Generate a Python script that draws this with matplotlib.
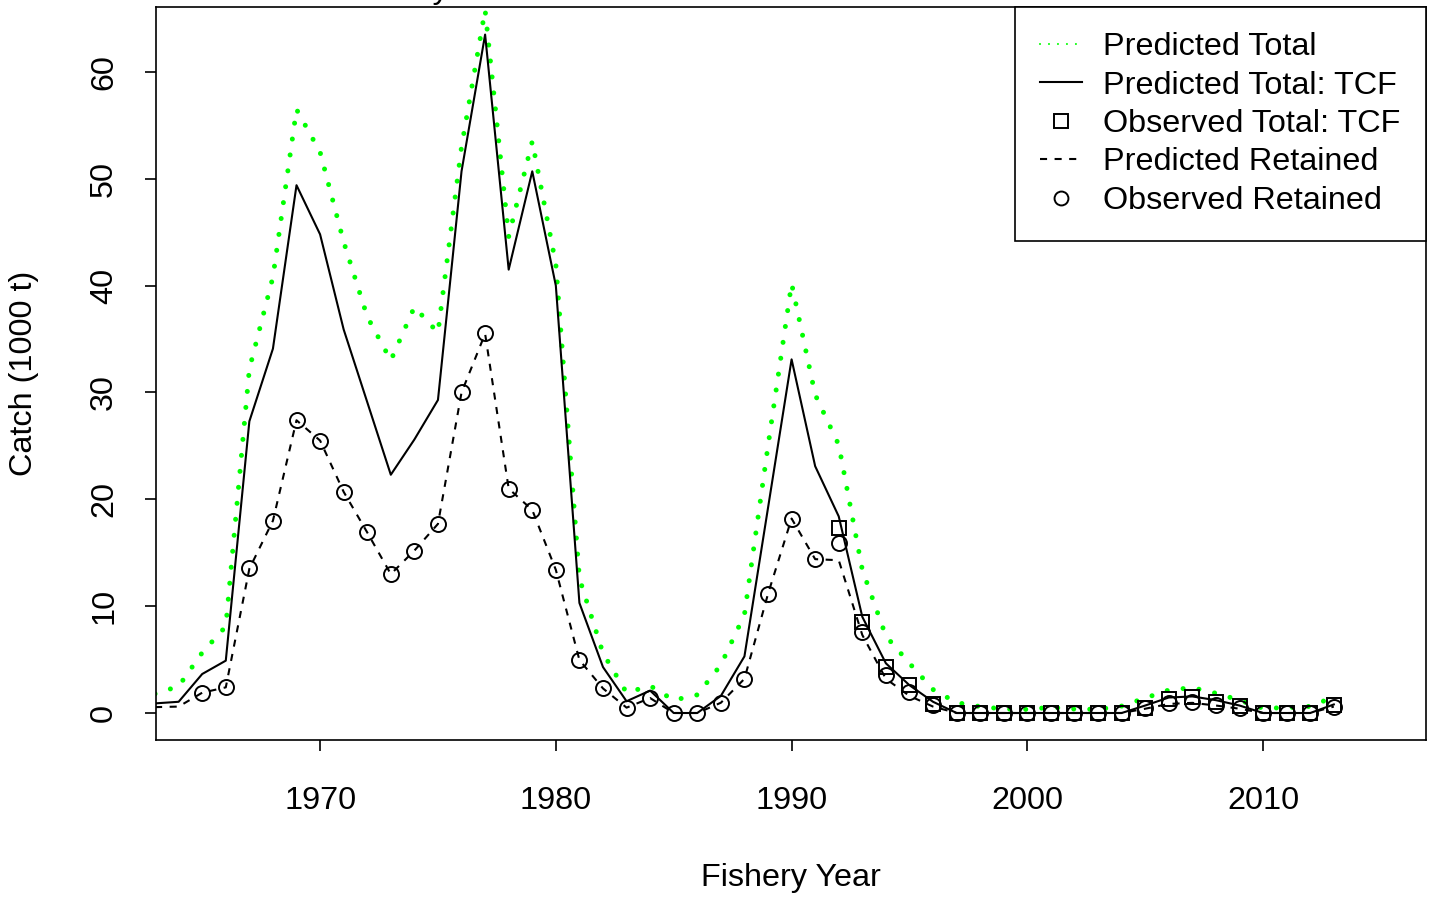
import matplotlib
matplotlib.use("Agg")
import matplotlib.pyplot as plt
from matplotlib.lines import Line2D

plt.rcParams['font.family'] = ['Liberation Sans', 'DejaVu Sans']

years = list(range(1963, 2014))

pred_total = [1.8, 2.5, 5.65, 8.1, 32.2, 40.8, 56.5, 52.5, 44.1, 37.1,
              33.0, 38.0, 35.6, 53.0, 65.8, 44.6, 53.5, 42.0, 12.6, 5.6,
              1.9, 2.55, 1.2, 1.7, 4.5, 9.2, 25.0, 40.2, 29.8, 25.1,
              13.4, 7.2, 4.65, 2.2, 0.97, 0.6, 0.37, 0.34, 0.53, 0.37,
              0.34, 0.65, 1.4, 2.15, 2.37, 1.85, 1.2, 0.44, 0.5, 0.62,
              1.5]

pred_total_tcf = [0.9, 1.05, 3.65, 4.9, 27.3, 34.1, 49.4, 44.8, 35.9, 29.1,
                  22.3, 25.6, 29.3, 50.7, 63.5, 41.5, 50.7, 40.0, 10.3, 4.3,
                  1.1, 2.1, 0.0, 0.0, 1.6, 5.3, 19.2, 33.1, 23.1, 18.4,
                  9.0, 4.65, 2.6, 1.05, 0.0, 0.0, 0.0, 0.0, 0.0, 0.0,
                  0.0, 0.0, 0.7, 1.45, 1.55, 1.2, 0.7, 0.0, 0.0, 0.0,
                  0.8]

pred_retained = [0.55, 0.6, 1.9, 2.4, 13.5, 18.0, 27.4, 25.5, 20.7, 16.9,
                 13.0, 15.2, 17.7, 30.0, 35.5, 21.0, 19.0, 13.4, 4.96, 2.3,
                 0.5, 1.4, 0.0, 0.0, 0.96, 3.2, 11.15, 18.2, 14.4, 14.3,
                 7.3, 3.2, 1.6, 0.6, 0.0, 0.0, 0.0, 0.0, 0.0, 0.0,
                 0.0, 0.0, 0.4, 0.85, 0.95, 0.7, 0.4, 0.0, 0.0, 0.0,
                 0.6]

obs_retained_years = list(range(1965, 2014))
obs_retained = [1.85, 2.4, 13.55, 18.0, 27.4, 25.5, 20.7, 16.9, 13.0, 15.2,
                17.7, 30.0, 35.55, 21.0, 19.0, 13.4, 4.96, 2.35, 0.45, 1.4,
                0.0, 0.0, 0.96, 3.2, 11.15, 18.2, 14.4, 15.9, 7.6, 3.56,
                2.0, 0.75, 0.0, 0.0, 0.0, 0.0, 0.0, 0.0, 0.0, 0.0,
                0.45, 0.97, 1.06, 0.75, 0.44, 0.0, 0.0, 0.0, 0.6]

obs_tcf_years = list(range(1992, 2014))
obs_tcf = [17.35, 8.55, 4.28, 2.62, 0.84, 0.0, 0.0, 0.0, 0.0, 0.0,
           0.0, 0.0, 0.0, 0.5, 1.28, 1.5, 1.06, 0.65, 0.0, 0.0,
           0.0, 0.75]

xticks = [1970, 1980, 1990, 2000, 2010]
yticks = [0, 10, 20, 30, 40, 50, 60]

W, H = 1436, 897
fig = plt.figure(figsize=(W / 100, H / 100), dpi=100)
L, R, T, B = 156, 1426, 7, 740
ax = fig.add_axes([L / W, 1 - B / H, (R - L) / W, (B - T) / H])

FS = 23.3
green = '#00FF00'

ax.plot(years, pred_total, color=green, lw=3.6, linestyle=(0, (0.01, 3.2)),
        dash_capstyle='round', zorder=2)
ax.plot(years, pred_total_tcf, color='black', lw=1.5, zorder=3)
ax.plot(years, pred_retained, color='black', lw=1.5,
        linestyle=(0, (3.4, 3.6)), zorder=3)
ax.plot(obs_tcf_years, obs_tcf, linestyle='none', marker='s', ms=9.4,
        mfc='none', mec='black', mew=1.4, zorder=4)
ax.plot(obs_retained_years, obs_retained, linestyle='none', marker='o',
        ms=10.8, mfc='none', mec='black', mew=1.4, zorder=4)

ax.set_xlim(1963.04, 2016.91)
ax.set_ylim(-2.527, 66.08)

ax.set_xticks(xticks)
ax.set_xticklabels([str(v) for v in xticks], fontsize=FS)
ax.set_yticks(yticks)
ax.set_yticklabels([str(v) for v in yticks], fontsize=FS, rotation=90,
                   va='center')
ax.tick_params(axis='x', direction='out', length=8, width=1.2, pad=25)
ax.tick_params(axis='y', direction='out', length=8, width=1.2, pad=18.5)
for sp in ax.spines.values():
    sp.set_linewidth(1.2)

ax.set_xlabel('Fishery Year', fontsize=FS, va='center')
ax.xaxis.set_label_coords(0.5, (B - 878) / (B - T))
ax.set_ylabel('Catch (1000 t)', fontsize=FS, va='center')
ax.yaxis.set_label_coords((24 - L) / (R - L), 0.5)

handles = [
    Line2D([], [], color=green, lw=1.5, linestyle=(0, (0.01, 4.3)),
           dash_capstyle='round'),
    Line2D([], [], color='black', lw=1.5),
    Line2D([], [], linestyle='none', marker='s', ms=9.4, mfc='none',
           mec='black', mew=1.4),
    Line2D([], [], color='black', lw=1.5, linestyle=(0, (3.4, 3.6))),
    Line2D([], [], linestyle='none', marker='o', ms=10.0, mfc='none',
           mec='black', mew=1.4),
]
labels = ['Predicted Total', 'Predicted Total: TCF', 'Observed Total: TCF',
          'Predicted Retained', 'Observed Retained']
leg = ax.legend(handles, labels, loc='upper right', bbox_to_anchor=(1, 1),
                fontsize=FS, frameon=True, fancybox=False, shadow=False,
                borderpad=0.78, labelspacing=0.26, handlelength=1.3,
                handletextpad=0.65, borderaxespad=0, framealpha=1)
leg.get_frame().set_edgecolor('black')
leg.get_frame().set_linewidth(1.2)

fig.text(161 / W, 1 + 1.5 / H, 'Male catch mortality', fontsize=FS,
         ha='left', va='baseline')

fig.savefig('out.png', dpi=100)
